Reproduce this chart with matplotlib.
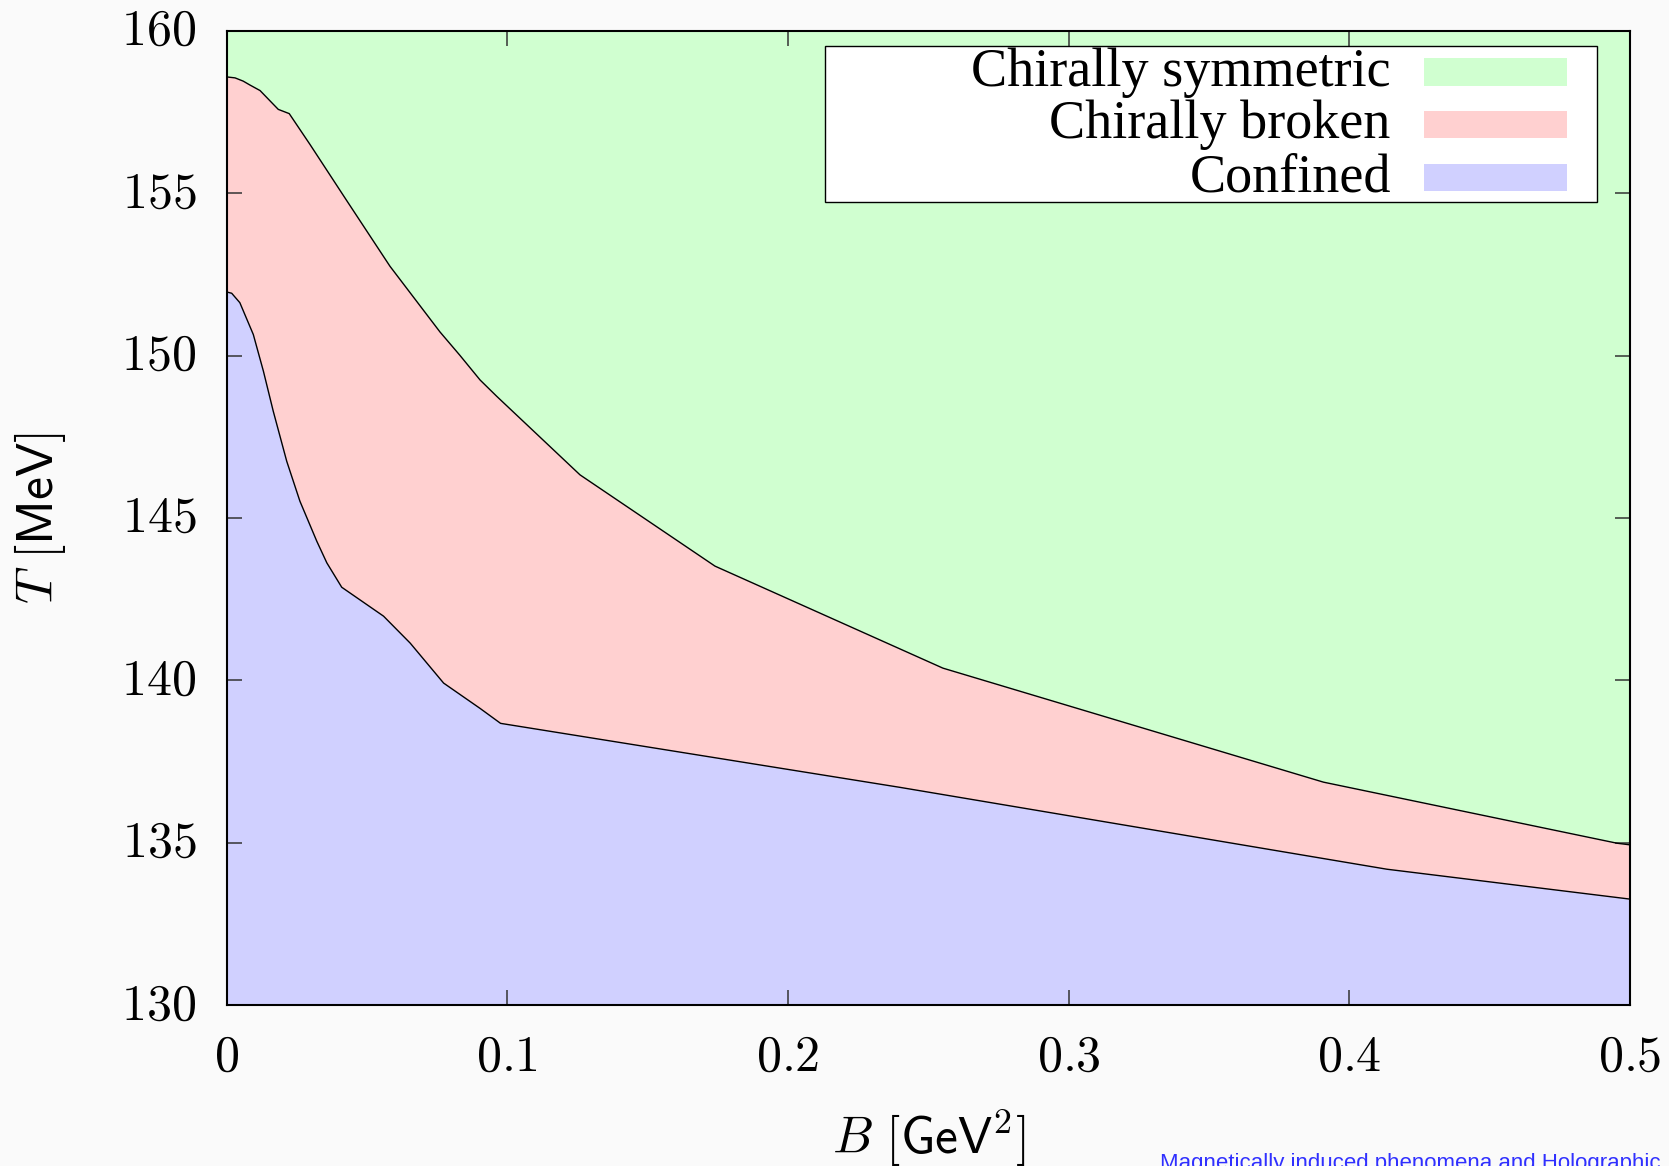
import numpy as np
import matplotlib
matplotlib.use("Agg")
import matplotlib.pyplot as plt
from matplotlib.patches import Rectangle

plt.rcParams['mathtext.fontset'] = 'cm'

# chiral transition line  (B in GeV^2, T in MeV)
B_chiral = [0, 0.003, 0.0059, 0.0083, 0.0119, 0.0166, 0.0184, 0.0223, 0.0297, 0.0428,
            0.0582, 0.0760, 0.0831, 0.0903, 0.0962, 0.1259, 0.1740, 0.2552, 0.3908, 0.4954, 0.5]
T_chiral = [158.58, 158.55, 158.45, 158.33, 158.16, 157.74, 157.58, 157.45, 156.50, 154.77,
            152.75, 150.73, 150.01, 149.25, 148.75, 146.33, 143.52, 140.38, 136.87, 134.99, 134.94]

# deconfinement line
B_deconf = [0, 0.0018, 0.0047, 0.0095, 0.0131, 0.0166, 0.0214, 0.0261, 0.0321, 0.0357,
            0.0410, 0.0559, 0.0654, 0.0773, 0.0903, 0.0976, 0.2399, 0.4134, 0.5]
T_deconf = [151.96, 151.92, 151.63, 150.65, 149.52, 148.29, 146.75, 145.52, 144.29, 143.62,
            142.87, 141.98, 141.15, 139.92, 139.14, 138.68, 136.71, 134.19, 133.27]

labels = ['Chirally symmetric', 'Chirally broken', 'Confined']
colors = ['#d0ffd0', '#ffd0d0', '#d0d0ff']

xticks = [0, 0.1, 0.2, 0.3, 0.4, 0.5]
xticklabels = ['0', '0.1', '0.2', '0.3', '0.4', '0.5']
yticks = [130, 135, 140, 145, 150, 155, 160]

fig = plt.figure(figsize=(16.69, 11.66), dpi=100, facecolor='#fafafa')
ax = fig.add_axes([0.1358, 0.1378, 0.8408, 0.8358])

ax.fill_between(B_chiral, T_chiral, 160, color=colors[0], lw=0)
ax.fill_between(B_chiral, 130, T_chiral, color=colors[1], lw=0)
ax.fill_between(B_deconf, 130, T_deconf, color=colors[2], lw=0)
ax.plot(B_chiral, T_chiral, color='black', lw=1.0)
ax.plot(B_deconf, T_deconf, color='black', lw=1.0)

ax.set_xlim(0, 0.5)
ax.set_ylim(130, 160)
ax.set_xticks(xticks)
ax.set_xticklabels(['$' + s + '$' for s in xticklabels])
ax.set_yticks(yticks)
ax.set_yticklabels(['$%d$' % v for v in yticks])
ax.tick_params(direction='in', length=11, width=1.1, color='#333333',
               top=True, right=True, labelsize=36, pad=22)
ax.tick_params(axis='x', pad=20)
for lbl in ax.get_yticklabels():
    lbl.set_y(lbl.get_position()[1])
    lbl.set_verticalalignment('center')
for sp in ax.spines.values():
    sp.set_linewidth(1.5)

ax.set_xlabel(r'$B\ [\mathsf{GeV}^2]$', fontsize=37)
ax.set_ylabel(r'$T\ [\mathsf{MeV}]$', fontsize=37)
ax.xaxis.set_label_coords(0.5, -0.105)
ax.yaxis.set_label_coords(-0.113, 0.5)

# legend box, drawn by hand (text right-aligned, swatch on the right)
ax.add_patch(Rectangle((0.4264, 0.8240), 0.5501, 0.1605, transform=ax.transAxes,
                       facecolor='white', edgecolor='black', lw=1.0, zorder=5))
row_y = [0.9436, 0.8896, 0.8355]
for lab, col, y in zip(labels, colors, row_y):
    ax.text(0.8296, y, lab, transform=ax.transAxes, ha='right', va='baseline',
            fontsize=39, family='Liberation Serif', zorder=6)
    ax.add_patch(Rectangle((0.8533, y), 0.1019, 0.0281, transform=ax.transAxes,
                           facecolor=col, edgecolor='none', zorder=6))

fig.text(0.695, -0.0026, 'Magnetically induced phenomena and Holographic',
         color='#3030ff', fontsize=16, family='Liberation Sans', va='baseline')

fig.savefig('out.png', dpi=100, facecolor=fig.get_facecolor())
